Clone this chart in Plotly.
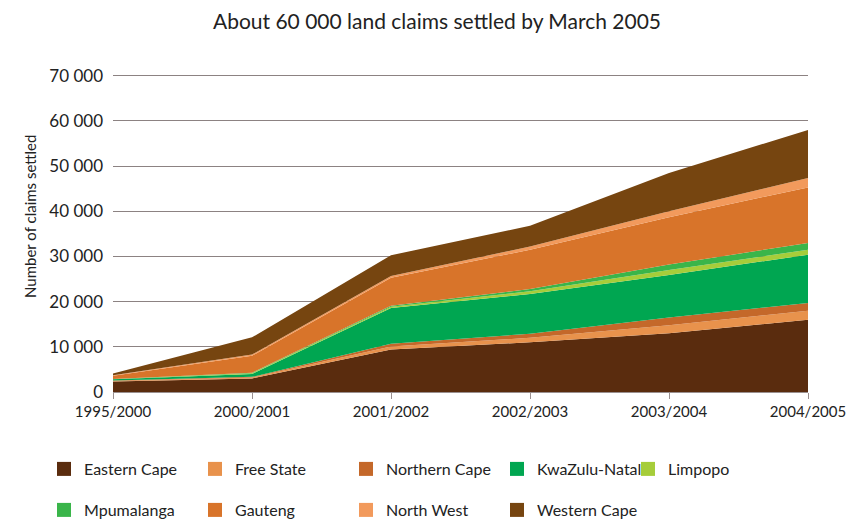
import plotly.graph_objects as go

years = ["1995/2000", "2000/2001", "2001/2002", "2002/2003", "2003/2004", "2004/2005"]

eastern_cape = [2300, 3000, 9400, 11000, 13000, 16000]
free_state = [150, 200, 700, 1000, 1800, 2000]
northern_cape = [100, 150, 600, 900, 1700, 1700]
kwazulu_natal = [250, 650, 7900, 8800, 9400, 10700]
limpopo = [50, 150, 300, 600, 1100, 1100]
mpumalanga = [50, 100, 200, 500, 1200, 1500]
gauteng = [700, 3750, 6200, 8700, 10500, 12300]
north_west = [100, 300, 400, 700, 1300, 2100]
western_cape = [400, 3800, 4600, 4600, 8500, 10600]

series_names = ["Eastern Cape", "Free State", "Northern Cape", "KwaZulu-Natal", "Limpopo",
                "Mpumalanga", "Gauteng", "North West", "Western Cape"]
series_values = [eastern_cape, free_state, northern_cape, kwazulu_natal, limpopo,
                 mpumalanga, gauteng, north_west, western_cape]
colors = ["#5a2c0e", "#e8924c", "#c4682a", "#00a651", "#a6cd3a",
          "#3ab54a", "#d8742a", "#f29a5c", "#764510"]

y_ticks = [0, 10000, 20000, 30000, 40000, 50000, 60000, 70000]
y_tick_text = ["0", "10 000", "20 000", "30 000", "40 000", "50 000", "60 000", "70 000"]

FONT = "Lato, 'Open Sans', sans-serif"

W, H = 847, 519
L, R, T, B = 113, 39, 74, 127

fig = go.Figure()
for name, vals, col in zip(series_names, series_values, colors):
    fig.add_trace(go.Scatter(
        x=years, y=vals, name=name, mode="lines", stackgroup="one",
        line=dict(width=0, color=col), fillcolor=col, showlegend=False,
        hoverinfo="x+y+name"))

# legend entries (square swatches): row 1 = first 5, row 2 = last 4
legend_of = ["legend", "legend", "legend", "legend", "legend3",
             "legend2", "legend2", "legend2", "legend2"]
for name, col, lg in zip(series_names, colors, legend_of):
    fig.add_trace(go.Scatter(
        x=[None], y=[None], mode="markers", name=name,
        marker=dict(symbol="square", size=14, color=col),
        legend=lg))

legend_common = dict(
    orientation="h", xref="container", yref="container", xanchor="left", yanchor="middle",
    entrywidth=106, entrywidthmode="pixels", itemwidth=30, traceorder="normal",
    font=dict(family=FONT, size=16, color="#222"), bgcolor="rgba(0,0,0,0)")

LX = 44
row1_y = 469
row2_y = 510

fig.update_layout(
    width=W, height=H,
    paper_bgcolor="white", plot_bgcolor="white",
    margin=dict(l=L, r=R, t=T, b=B, autoexpand=False),
    title=dict(text="About 60 000 land claims settled by March 2005",
               x=437 / W, xanchor="center", y=1 - 22 / H, yanchor="middle",
               font=dict(family=FONT, size=21, color="#222")),
    xaxis=dict(type="category", range=[0, 5], showgrid=False, zeroline=False,
               showline=True, linecolor="#9a9090", linewidth=1,
               ticks="outside", ticklen=6, tickcolor="#9a9090",
               tickfont=dict(family=FONT, size=15, color="#222")),
    yaxis=dict(range=[0, 70400], tickvals=y_ticks, ticktext=y_tick_text,
               showgrid=True, gridcolor="#8c8282", gridwidth=1.3, zeroline=False,
               showline=False, ticks="", ticklabelstandoff=9,
               tickfont=dict(family=FONT, size=17, color="#222")),
    legend=dict(x=LX / W, y=1 - row1_y / H, **legend_common),
    legend3=dict(x=(LX + 4 * 146) / W, y=1 - row1_y / H, **legend_common),
    legend2=dict(x=LX / W, y=1 - row2_y / H, **legend_common),
    showlegend=True,
    annotations=[dict(text="Number of claims settled", textangle=-90,
                      xref="paper", yref="paper",
                      x=(30 - L) / (W - L - R), xanchor="center",
                      y=(H - B - 217) / (H - T - B), yanchor="middle",
                      showarrow=False,
                      font=dict(family=FONT, size=15, color="#222"))],
)

fig.write_html("out.html", config={"displayModeBar": False},
               post_script="document.body.style.margin='0';document.body.style.overflow='hidden';")
